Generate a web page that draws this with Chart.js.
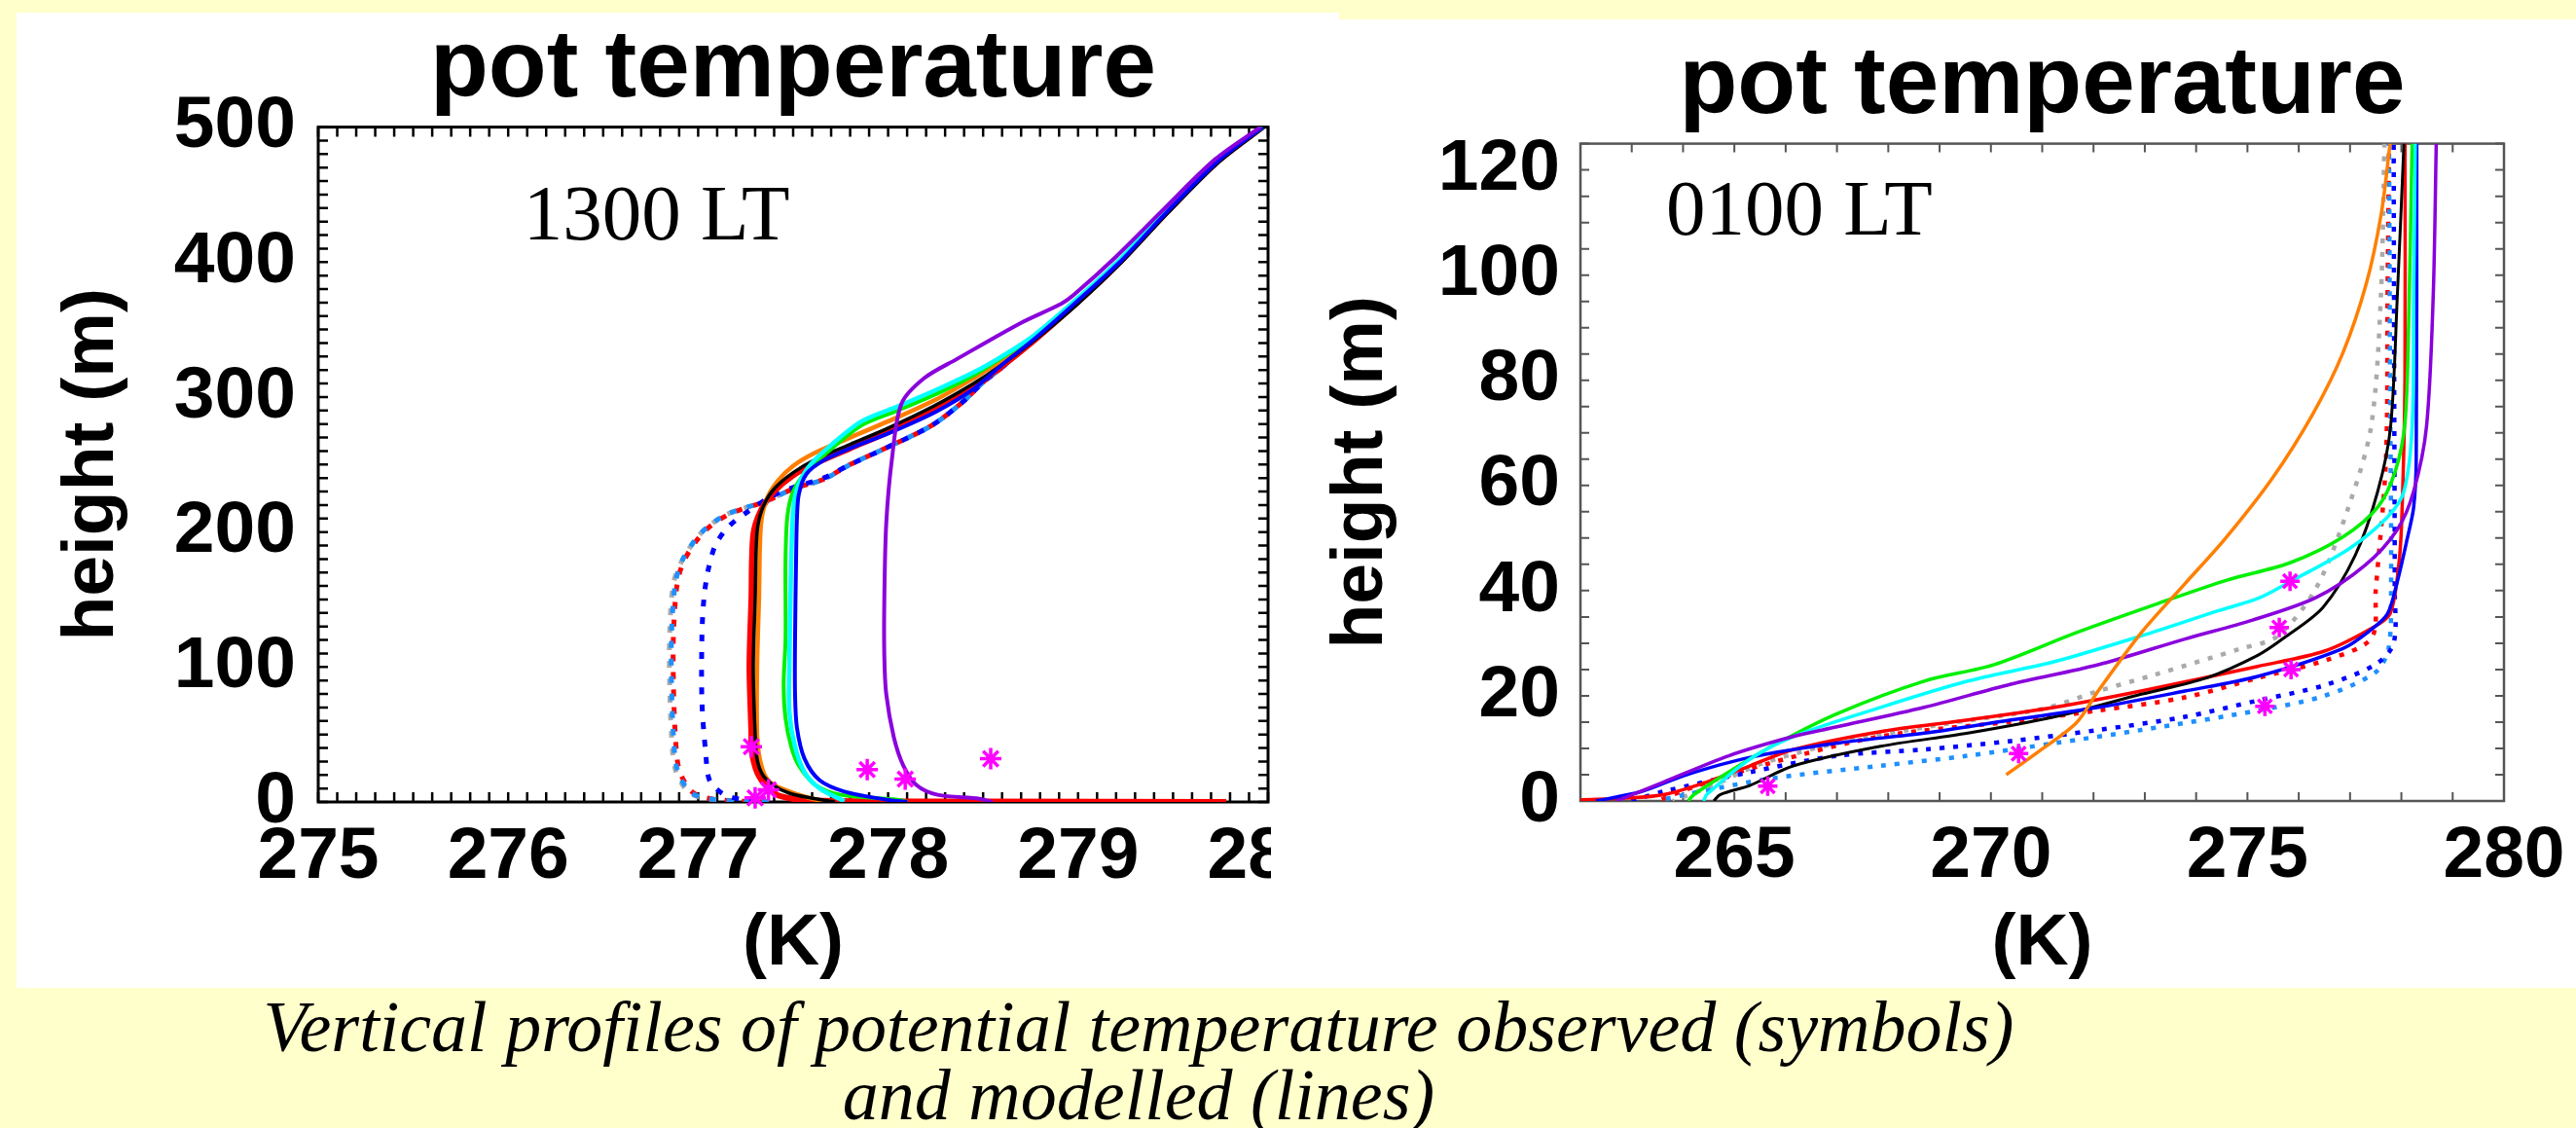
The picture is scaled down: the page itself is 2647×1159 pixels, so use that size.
<!DOCTYPE html>
<html>
<head>
<meta charset="utf-8">
<title>pot temperature</title>
<script src="https://cdn.jsdelivr.net/npm/chart.js@4.4.1/dist/chart.umd.min.js"></script>
<style>
    html, body { margin: 0; padding: 0; }
    body { width: 2647px; height: 1159px; background: #ffffcc; position: relative; overflow: hidden; }
    .panel { position: absolute; background: #ffffff; }
    .clip { position: absolute; overflow: hidden; }
    canvas { display: block; }
    .caption {
        position: absolute; left: 1170px; top: 1020px;
        transform: translateX(-50%);
        white-space: nowrap; text-align: center;
        font: italic 74px/70px 'Liberation Serif', 'Times New Roman', serif;
        color: #000;
    }
</style>
</head>
<body>

<div class="panel" style="left:17px; top:13px; width:1359px; height:1002px;"></div>
<div class="panel" style="left:1376px; top:20px; width:1271px; height:995px;"></div>

<div class="clip" style="left:17px; top:13px; width:1289px; height:1002px;">
    <canvas id="dayChart" width="1359" height="1002"></canvas>
</div>
<div class="clip" style="left:1320px; top:20px; width:1327px; height:995px;">
    <canvas id="nightChart" width="1327" height="995"></canvas>
</div>

<div class="caption">Vertical profiles of potential temperature observed (symbols)<br>and modelled (lines)</div>

<script>
// ==========================================
// Data: [potential temperature (K), height (m)]
// ==========================================

// --- 1300 LT ---
var dayTempTicks = [275, 276, 277, 278, 279, 280];
var dayHeightTicks = [0, 100, 200, 300, 400, 500];

var dayObs = [[277.28, 41], [277.37, 9], [277.30, 3], [277.89, 24], [278.09, 17], [278.54, 32]];

var dayPurple = [[279.96, 500], [279.72, 476], [279.45, 439], [279.2, 404], [278.98, 376], [278.91, 369], [278.7, 355],
    [278.36, 328], [278.19, 314], [278.07, 295], [278.02, 254], [277.99, 206], [277.98, 150], [277.98, 108],
    [277.99, 80], [278.03, 48], [278.08, 27], [278.15, 12.4], [278.26, 5.3], [278.48, 2.4], [278.55, 0]];
var dayBlue = [[279.97, 500], [279.73, 474], [279.46, 436], [279.22, 400], [278.98, 369], [278.77, 343], [278.6, 324],
    [278.45, 306], [278.25, 289], [278.0, 273], [277.8, 262], [277.66, 253], [277.57, 243], [277.53, 228],
    [277.52, 210], [277.515, 175], [277.51, 120], [277.51, 80], [277.52, 55], [277.56, 32], [277.64, 16],
    [277.77, 7.7], [277.99, 1.7], [278.1, 0]];
var dayCyan = [[279.97, 500], [279.73, 476], [279.46, 438], [279.22, 402], [278.98, 371], [278.77, 346], [278.62, 332],
    [278.46, 319], [278.28, 307], [278.05, 293], [277.86, 282], [277.68, 262], [277.58, 248], [277.52, 232],
    [277.5, 215], [277.49, 180], [277.48, 100], [277.48, 67], [277.51, 41], [277.56, 22], [277.64, 10], [277.77, 0.5]];
var dayGreen = [[279.97, 500], [279.73, 475], [279.46, 437], [279.22, 401], [278.98, 370], [278.77, 345], [278.62, 331],
    [278.46, 317], [278.28, 304], [278.05, 290], [277.86, 279], [277.68, 259], [277.57, 245], [277.5, 230],
    [277.47, 212], [277.46, 180], [277.46, 120], [277.45, 87], [277.46, 62], [277.49, 41], [277.53, 27],
    [277.62, 12.4], [277.75, 5.3], [278.05, 1.7], [278.1, 0]];
var dayBlack = [[279.98, 500], [279.74, 474], [279.47, 436], [279.23, 400], [278.99, 368], [278.77, 342], [278.6, 324],
    [278.45, 310], [278.25, 294], [278.0, 277], [277.8, 265], [277.62, 254], [277.5, 244], [277.4, 232],
    [277.34, 218], [277.31, 200], [277.3, 150], [277.29, 100], [277.3, 50], [277.31, 32], [277.34, 20],
    [277.4, 12], [277.48, 6.5], [277.59, 3], [277.72, 0]];
var dayOrange = [[279.97, 500], [279.73, 475], [279.46, 437], [279.22, 401], [278.98, 369], [278.76, 344], [278.6, 327],
    [278.45, 314], [278.25, 298], [278.0, 282], [277.8, 270], [277.62, 259], [277.5, 249], [277.42, 238],
    [277.36, 224], [277.33, 205], [277.32, 150], [277.31, 100], [277.31, 50], [277.32, 35], [277.35, 20],
    [277.4, 12.4], [277.53, 5.3], [277.62, 1.7], [277.7, 0]];
var dayRed = [[279.97, 500], [279.73, 474], [279.46, 436], [279.22, 400], [278.98, 368], [278.77, 342], [278.6, 323],
    [278.45, 308], [278.25, 291], [278.0, 274], [277.8, 262], [277.62, 251], [277.5, 242], [277.4, 230],
    [277.33, 216], [277.29, 198], [277.28, 150], [277.27, 100], [277.28, 50], [277.28, 39], [277.31, 22],
    [277.37, 10], [277.44, 4], [277.6, 1], [278.5, 0.3], [279.78, 0]];
var dayBlueDot = [[279.97, 500], [279.73, 475], [279.46, 436], [279.22, 400], [278.98, 369], [278.77, 343], [278.6, 322],
    [278.5, 311], [278.39, 296], [278.23, 279], [278.0, 263], [277.8, 250], [277.66, 240], [277.5, 233],
    [277.38, 226], [277.26, 215], [277.16, 204], [277.09, 190], [277.05, 170], [277.03, 150], [277.02, 124],
    [277.02, 74], [277.04, 36], [277.06, 16], [277.13, 6], [277.22, 2], [277.35, 0]];
var daySkyDot = [[279.97, 500], [279.73, 475], [279.46, 436], [279.22, 400], [278.98, 369], [278.77, 343], [278.6, 322],
    [278.5, 311], [278.39, 296], [278.23, 279], [278.0, 263], [277.8, 250], [277.66, 239], [277.5, 232],
    [277.36, 223], [277.15, 213], [277.02, 200], [276.92, 180], [276.88, 162], [276.86, 124], [276.86, 87],
    [276.87, 49], [276.89, 24], [276.95, 8.5], [277.02, 3.4], [277.15, 1], [277.4, 0]];
var dayRedDot = [[279.97, 500], [279.73, 475], [279.46, 436], [279.22, 400], [278.98, 369], [278.77, 343], [278.6, 322],
    [278.5, 311], [278.39, 296], [278.23, 279], [278.0, 263], [277.8, 250], [277.66, 239], [277.5, 232],
    [277.36, 223], [277.16, 213], [277.03, 200], [276.93, 180], [276.89, 162], [276.87, 124], [276.87, 87],
    [276.88, 49], [276.9, 24], [276.96, 8.5], [277.03, 3.4], [277.16, 1], [277.4, 0]];
var dayGrayDot = [[279.97, 500], [279.73, 475], [279.46, 436], [279.22, 400], [278.98, 369], [278.77, 343], [278.6, 322],
    [278.5, 311], [278.39, 296], [278.23, 279], [278.0, 263], [277.8, 250], [277.66, 239], [277.5, 232],
    [277.36, 223], [277.15, 213], [277.02, 200], [276.92, 180], [276.87, 162], [276.85, 124], [276.85, 87],
    [276.86, 49], [276.88, 24], [276.94, 8.5], [277.01, 3.4], [277.15, 1], [277.4, 0]];

// --- 0100 LT ---
var nightTempTicks = [265, 270, 275, 280];
var nightHeightTicks = [0, 20, 40, 60, 80, 100, 120];

var nightObs = [[265.65, 2.8], [270.54, 9], [275.34, 18], [275.85, 25], [275.62, 33], [275.83, 41.8]];

var nightOrange = [[270.3, 5], [270.9, 9.2], [271.66, 14.8], [272.09, 20.9], [272.93, 32], [273.78, 41.3],
    [274.56, 49.8], [275.48, 61.3], [276.28, 73.7], [276.86, 85.2], [277.32, 98.5], [277.61, 111.8], [277.78, 125]];
var nightGreen = [[264.1, 0], [264.21, 1.2], [264.89, 5.5], [265.73, 10.4], [267.0, 16.6], [268.7, 22.8],
    [270.05, 25.9], [271.66, 32], [273.27, 37.6], [274.6, 42], [275.83, 45.3], [276.86, 50.2], [277.55, 56],
    [277.89, 63], [278.07, 71.9], [278.14, 90], [278.21, 125]];
var nightCyan = [[264.4, 0], [264.46, 1.2], [265.31, 8], [266.16, 12.3], [267.85, 17.8], [269.55, 22.8],
    [271.24, 26.5], [272.93, 31.4], [274.44, 36.2], [275.2, 38.5], [275.83, 41.7], [276.97, 47.9], [277.73, 54],
    [278.05, 58.9], [278.21, 71.2], [278.24, 95.8], [278.27, 125]];
var nightPurple = [[262.7, 0], [263.62, 3.6], [264.89, 8.6], [266.16, 12.3], [267.0, 14.1], [268.7, 17.8],
    [270.39, 22.2], [272.09, 25.9], [273.78, 30.8], [275.1, 34.4], [276.34, 38.7], [277.29, 44.8], [277.92, 51.6],
    [278.24, 58.9], [278.49, 71.2], [278.62, 95.8], [278.68, 125]];
var nightBlue = [[262.3, 0], [263.19, 1.8], [264.04, 4.9], [265.31, 8.3], [267.0, 11], [268.7, 12.9], [270.39, 15.4],
    [272.09, 17.8], [273.78, 20.9], [275.2, 23.7], [276.86, 29], [277.4, 32.5], [277.73, 35.6], [277.92, 41.7],
    [278.11, 49.7], [278.24, 55.9], [278.29, 65], [278.3, 125]];
var nightBlack = [[264.6, 0], [264.72, 1.2], [265.31, 3], [266.16, 6.7], [267.85, 10.4], [269.55, 12.9],
    [271.24, 16], [272.93, 20.3], [274.2, 23.4], [275.2, 27.7], [275.71, 31], [276.47, 36.8], [277.1, 46.7],
    [277.54, 58.9], [277.79, 71.2], [277.92, 95.8], [278.05, 125]];
var nightRed = [[262.0, 0.2], [263.0, 0.6], [263.62, 1.2], [264.46, 3.6], [265.31, 6.7], [266.16, 9.8],
    [267.85, 13.2], [269.55, 15.4], [271.24, 17.8], [272.93, 20.9], [275.2, 25.6], [276.5, 28.5], [277.43, 32.9],
    [277.78, 35.6], [277.95, 45], [278.01, 54.2], [278.07, 80], [278.07, 125]];
var nightGrayDot = [[263.8, 0], [264.6, 3], [265.5, 7], [267.0, 11], [269.0, 14.5], [271.0, 17.5], [272.09, 20.9],
    [273.19, 24], [274.88, 29], [275.58, 31.3], [276.34, 40.5], [276.97, 55.9], [277.41, 71.2], [277.6, 95.8],
    [277.67, 125]];
var nightRedDot = [[263.5, 0], [264.3, 3], [265.73, 7.3], [267.85, 12.3], [270.39, 15.1], [272.09, 17.2],
    [273.78, 19.7], [275.2, 23.4], [276.6, 27], [277.42, 31], [277.5, 40], [277.7, 65], [277.73, 95.8], [277.76, 125]];
var nightBlueDot = [[263.0, 0], [263.62, 1.8], [265.31, 5.5], [267.0, 8.6], [268.7, 9.8], [270.39, 11.4],
    [272.09, 13.5], [273.78, 16], [275.2, 19.1], [276.5, 22], [277.5, 26], [277.85, 30], [277.87, 40],
    [277.86, 80], [277.85, 125]];
var nightSkyDot = [[263.5, 0], [264.04, 1.2], [265.73, 4.3], [267.85, 6.7], [269.55, 8.6], [271.24, 11],
    [272.93, 13.5], [275.2, 17.2], [276.5, 20], [277.5, 24.5], [277.75, 29], [277.8, 40], [277.78, 80], [277.76, 125]];

// ==========================================
// Helpers
// ==========================================

Chart.defaults.font.family = "'Liberation Sans', Arial, sans-serif";
Chart.defaults.color = '#000';

function toXY(pts) {
    return pts.map(p => ({ x: p[0], y: p[1] }));
}

function profile(pts, color, width, dash, dashOffset) {
    return {
        data: toXY(pts),
        showLine: true,
        borderColor: color,
        backgroundColor: color,
        borderWidth: width,
        borderDash: dash || [],
        borderDashOffset: dashOffset || 0,
        pointRadius: 0,
        tension: 0.3,
        fill: false
    };
}

function observations(pts, radius) {
    return {
        data: toXY(pts),
        showLine: false,
        pointStyle: 'star',
        pointRadius: radius,
        borderColor: '#ff00ff',
        backgroundColor: '#ff00ff',
        borderWidth: 3.5,
        clip: false
    };
}

/**
 * Box around the plot with inward minor ticks on all four sides,
 * plus the local-time label written inside the plot.
 */
var frameTicks = {
    id: 'frameTicks',
    beforeDatasetsDraw: function(chart, args, o) {
        var ctx = chart.ctx, a = chart.chartArea, x = chart.scales.x, y = chart.scales.y;
        ctx.save();
        ctx.strokeStyle = o.color;
        ctx.lineWidth = o.frameWidth;
        ctx.strokeRect(a.left, a.top, a.right - a.left, a.bottom - a.top);

        ctx.lineWidth = o.tickWidth;
        ctx.beginPath();
        var nx = Math.round((x.max - x.min) / o.xStep);
        for (var i = 0; i <= nx; i++) {
            var px = x.getPixelForValue(x.min + i * o.xStep);
            ctx.moveTo(px, a.bottom); ctx.lineTo(px, a.bottom - o.len);
            ctx.moveTo(px, a.top); ctx.lineTo(px, a.top + o.len);
        }
        var ny = Math.round((y.max - y.min) / o.yStep);
        for (var j = 0; j <= ny; j++) {
            var py = y.getPixelForValue(y.min + j * o.yStep);
            ctx.moveTo(a.left, py); ctx.lineTo(a.left + o.len, py);
            ctx.moveTo(a.right, py); ctx.lineTo(a.right - o.len, py);
        }
        ctx.stroke();
        ctx.restore();
    },
    afterDraw: function(chart, args, o) {
        var ctx = chart.ctx, x = chart.scales.x, y = chart.scales.y;
        ctx.save();
        ctx.font = "81px 'Liberation Serif', 'Times New Roman', serif";
        ctx.fillStyle = '#000';
        ctx.textAlign = 'left';
        ctx.textBaseline = 'alphabetic';
        ctx.fillText(o.label, x.getPixelForValue(o.labelAt[0]), y.getPixelForValue(o.labelAt[1]));
        ctx.restore();
    }
};

/**
 * Build one profile panel. Geometry values keep the plot box in place.
 */
function buildPanel(canvasId, p) {
    var tickFont = { size: 75, weight: 'bold' };
    var titleFont = { size: 75, weight: 'bold', lineHeight: 1.2 };

    return new Chart(document.getElementById(canvasId), {
        type: 'scatter',
        data: { datasets: p.datasets },
        options: {
            responsive: false,
            animation: false,
            devicePixelRatio: 1,
            layout: { padding: { left: 0, top: 0, bottom: 0, right: p.padRight } },
            plugins: {
                legend: { display: false },
                tooltip: { enabled: false },
                title: {
                    display: true,
                    text: 'pot temperature',
                    fullSize: false,
                    color: '#000',
                    font: { size: 98, weight: 'bold', lineHeight: 1.2 },
                    padding: { top: p.titlePad, bottom: 0 }
                },
                frameTicks: p.frame
            },
            scales: {
                x: {
                    type: 'linear',
                    min: p.xRange[0], max: p.xRange[1],
                    grid: { display: false, drawTicks: false },
                    border: { display: false },
                    ticks: { font: tickFont, color: '#000', padding: 12, autoSkip: false, maxRotation: 0 },
                    afterBuildTicks: function(s) { s.ticks = p.xTicks.map(v => ({ value: v })); },
                    afterFit: function(s) { s.height = p.xAxisHeight; s.paddingLeft = 0; s.paddingRight = 0; },
                    title: { display: true, text: '(K)', color: '#000', font: titleFont, padding: { top: 0, bottom: 0 } }
                },
                y: {
                    type: 'linear',
                    min: p.yRange[0], max: p.yRange[1],
                    grid: { display: false, drawTicks: false },
                    border: { display: false },
                    ticks: { font: tickFont, color: '#000', padding: p.yTickPad, autoSkip: false },
                    afterBuildTicks: function(s) { s.ticks = p.yTicks.map(v => ({ value: v })); },
                    afterFit: function(s) { s.width = p.yAxisWidth; s.paddingTop = 0; s.paddingBottom = 0; },
                    title: { display: true, text: 'height (m)', color: '#000', font: titleFont, padding: { top: p.yTitlePad, bottom: 0 } }
                }
            }
        },
        plugins: [frameTicks]
    });
}

// ==========================================
// Panels
// ==========================================

var dotDay = [7, 11];
var dotNight = [5, 9];

buildPanel('dayChart', {
    xRange: [275, 280], yRange: [0, 500],
    xTicks: dayTempTicks, yTicks: dayHeightTicks,
    padRight: 73, titlePad: 0, xAxisHeight: 191, yAxisWidth: 310, yTickPad: 23, yTitlePad: 33,
    frame: { color: '#000', frameWidth: 3, tickWidth: 2.5, len: 10, xStep: 0.1, yStep: 10,
             label: '1300 LT', labelAt: [276.08, 416.7] },
    datasets: [
        observations(dayObs, 11),
        profile(dayPurple, '#8a00dc', 4),
        profile(dayBlue, '#0000ff', 4),
        profile(dayCyan, '#00ffff', 4.5),
        profile(dayGreen, '#00f000', 4),
        profile(dayBlack, '#000000', 3.5),
        profile(dayOrange, '#ff7f00', 4.5),
        profile(dayRed, '#ff0000', 6),
        profile(dayBlueDot, '#0000ff', 5, dotDay, 0),
        profile(daySkyDot, '#1e90ff', 5, dotDay, 6),
        profile(dayRedDot, '#ff0000', 5, dotDay, 12),
        profile(dayGrayDot, '#aaaaaa', 5, dotDay, 3)
    ]
});

buildPanel('nightChart', {
    xRange: [262, 280], yRange: [0, 125],
    xTicks: nightTempTicks, yTicks: nightHeightTicks,
    padRight: 74, titlePad: 10, xAxisHeight: 192, yAxisWidth: 304, yTickPad: 21, yTitlePad: 34,
    frame: { color: '#555', frameWidth: 2.5, tickWidth: 2, len: 9, xStep: 1, yStep: 5,
             label: '0100 LT', labelAt: [263.67, 107.8] },
    datasets: [
        observations(nightObs, 10),
        profile(nightOrange, '#ff7f00', 3.5),
        profile(nightPurple, '#8a00dc', 3.5),
        profile(nightCyan, '#00ffff', 3.5),
        profile(nightGreen, '#00f000', 3.5),
        profile(nightBlue, '#0000ff', 3.5),
        profile(nightBlack, '#000000', 3),
        profile(nightRed, '#ff0000', 3.5),
        profile(nightBlueDot, '#0000ff', 4.5, dotNight, 0),
        profile(nightSkyDot, '#1e90ff', 4.5, dotNight, 5),
        profile(nightRedDot, '#ff0000', 4.5, dotNight, 9),
        profile(nightGrayDot, '#aaaaaa', 4.5, dotNight, 3)
    ]
});
</script>
</body>
</html>
